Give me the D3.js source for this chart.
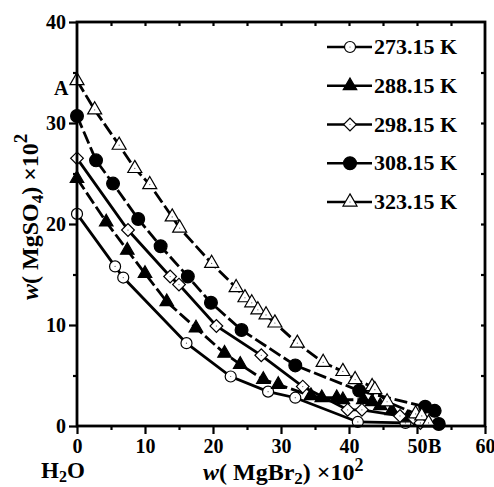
<!DOCTYPE html>
<html><head><meta charset="utf-8">
<script src="https://cdn.jsdelivr.net/npm/d3@7"></script>
<style>
html,body{margin:0;padding:0;background:#fff;}
svg text{font-family:"Liberation Serif","Times New Roman",serif;font-weight:bold;fill:#000;}
</style></head>
<body><svg id="c" width="494" height="487"></svg>
<script>
// ---- data ----
const seriesNames = ["273.15 K","288.15 K","298.15 K","308.15 K","323.15 K"];
const x273 = [0,5.6,6.8,16.1,22.6,28.1,32.1,41.3,48.3];
const y273 = [21.0,15.8,14.7,8.2,4.9,3.4,2.8,0.4,0.3];
const x288 = [0,4.3,7.4,10.0,13.2,17.5,21.7,24.0,27.4,29.6,34.4,36.0,38.2,39.1,42.1,43.4,44.6,46.3,48.6,50.4];
const y288 = [24.5,20.2,17.4,15.1,12.3,9.7,7.2,6.1,4.6,4.1,3.0,2.8,2.8,2.6,2.6,2.4,2.0,1.5,0.8,0.4];
const x298 = [0,7.5,13.7,15.0,20.5,27.1,33.2,39.8,41.9,47.5,49.5,50.5];
const y298 = [26.5,19.4,14.8,14.0,9.9,7.0,3.9,1.6,1.6,1.0,0.8,0.3];
const x308 = [0,2.8,5.3,9.0,12.3,16.3,19.7,24.2,32.1,41.5,51.2,52.6,53.2];
const y308 = [30.7,26.3,24.0,20.5,17.8,14.8,12.2,9.5,6.0,3.5,1.9,1.5,0.2];
const x323 = [0,2.6,6.2,8.5,10.7,14.0,15.1,19.8,23.4,24.7,25.7,26.6,27.8,29.1,32.4,36.2,39.1,40.9,43.4,43.8,45.6,49.8,50.7,51.7];
const y323 = [34.2,31.3,27.8,25.5,23.9,20.7,19.6,16.1,13.7,12.7,12.2,11.5,11.0,10.2,8.2,6.3,5.4,4.6,3.9,3.6,2.4,1.2,1.0,0.3];
const xTicks = [0,10,20,30,40,50,60];
const yTicks = [0,10,20,30,40];

// ---- styles per series ----
const styles = [
  {shape:"circle",  fill:"#fff", dash:null,  xs:x273, ys:y273},
  {shape:"triangle",fill:"#000", dash:"13,4",xs:x288, ys:y288},
  {shape:"diamond", fill:"#fff", dash:null,  xs:x298, ys:y298},
  {shape:"circle2", fill:"#000", dash:"13,4",xs:x308, ys:y308},
  {shape:"triangle2",fill:"#fff",dash:"13,4",xs:x323, ys:y323}
];

const svg = d3.select("#c");
const L=77, R=485, T=22, B=426;
const x = d3.scaleLinear().domain([0,60]).range([L,R]);
const y = d3.scaleLinear().domain([0,40]).range([B,T]);

function symPath(shape){
  if(shape==="circle") return d3.symbol(d3.symbolCircle, Math.PI*5.5*5.5)();
  if(shape==="circle2") return d3.symbol(d3.symbolCircle, Math.PI*6.4*6.4)();
  if(shape==="triangle") return d3.symbol(d3.symbolTriangle, 13.5*13.5*Math.sqrt(3)/4)();
  if(shape==="triangle2") return d3.symbol(d3.symbolTriangle, 14*14*Math.sqrt(3)/4)();
  if(shape==="diamond") return d3.symbol(d3.symbolSquare, 9*9)();
}
function drawMarker(g, shape, fill, cx, cy){
  g.append("path").attr("d", symPath(shape))
    .attr("fill", fill).attr("stroke","#000").attr("stroke-width",1.2)
    .attr("transform", `translate(${cx},${cy})` + (shape==="diamond"?" rotate(45)":""));
  if(fill==="#fff"){
    g.append("circle").attr("cx",cx).attr("cy",cy).attr("r",0.6).attr("fill","#555");
  }
}

// ---- lines ----
const line = d3.line().x(d=>x(d[0])).y(d=>y(d[1]));
const plot = svg.append("g");
styles.forEach(s=>{
  const pts = s.xs.map((v,i)=>[v,s.ys[i]]);
  plot.append("path").datum(pts).attr("d",line)
    .attr("fill","none").attr("stroke","#000").attr("stroke-width",2.8)
    .attr("stroke-dasharray", s.dash);
});
// ---- markers ----
styles.forEach(s=>{
  s.xs.forEach((v,i)=>drawMarker(plot, s.shape, s.fill, x(v), y(s.ys[i])));
});

// ---- axes ----
const fs = 20;
const axisG = svg.append("g");
function styleAxis(g){
  g.selectAll(".domain").remove();
  g.selectAll("line").attr("stroke","#000").attr("stroke-width",2.2);
  g.selectAll("text").attr("font-size",fs).attr("font-family",null);
}
// bottom
const bx = axisG.append("g").attr("transform",`translate(0,${B})`)
  .call(d3.axisBottom(x).tickValues(xTicks).tickSize(8).tickPadding(5).tickFormat(d3.format("d")));
styleAxis(bx);
bx.selectAll("text").attr("dy","0.71em");
axisG.append("g").attr("transform",`translate(0,${B})`)
  .call(d3.axisBottom(x).tickValues(d3.range(5,60,10)).tickSize(4).tickFormat(""))
  .call(styleAxis);
// left
const lx = axisG.append("g").attr("transform",`translate(${L},0)`)
  .call(d3.axisLeft(y).tickValues(yTicks).tickSize(8).tickPadding(3).tickFormat(d3.format("d")));
styleAxis(lx);
axisG.append("g").attr("transform",`translate(${L},0)`)
  .call(d3.axisLeft(y).tickValues(d3.range(5,40,10)).tickSize(4).tickFormat(""))
  .call(styleAxis);
// top (inward)
axisG.append("g").attr("transform",`translate(0,${T})`)
  .call(d3.axisBottom(x).tickValues(d3.range(5,60,5)).tickSize(4).tickFormat(""))
  .call(styleAxis);
// right (inward)
axisG.append("g").attr("transform",`translate(${R},0)`)
  .call(d3.axisLeft(y).tickValues(d3.range(5,40,5)).tickSize(4).tickFormat(""))
  .call(styleAxis);
// frame
axisG.append("rect").attr("x",L).attr("y",T).attr("width",R-L).attr("height",B-T)
  .attr("fill","none").attr("stroke","#000").attr("stroke-width",2.8);

// ---- labels ----
svg.append("text").attr("x",54).attr("y",95).attr("font-size",fs).text("A");
svg.append("text").attr("x",428).attr("y",453).attr("font-size",fs).text("B");
const h2o = svg.append("text").attr("x",41).attr("y",478).attr("font-size",23);
h2o.append("tspan").text("H");
h2o.append("tspan").attr("font-size",16).attr("dy",4).text("2");
h2o.append("tspan").attr("dy",-4).text("O");

// x title
const xt = svg.append("text").attr("x",203).attr("y",480).attr("font-size",24);
xt.append("tspan").attr("font-style","italic").text("w");
xt.append("tspan").text("( MgBr");
xt.append("tspan").attr("font-size",17).attr("dy",4).text("2");
xt.append("tspan").attr("dy",-4).text(") ×10");
xt.append("tspan").attr("font-size",18).attr("dy",-9).text("2");

// y title
const yt = svg.append("text").attr("transform",`translate(38,300) rotate(-90)`)
  .attr("font-size",24);
yt.append("tspan").attr("font-style","italic").text("w");
yt.append("tspan").text("( MgSO");
yt.append("tspan").attr("font-size",17).attr("dy",5).text("4");
yt.append("tspan").attr("dy",-5).text(") ×10");
yt.append("tspan").attr("font-size",19).attr("dy",-11).text("2");

// ---- legend ----
const lg = svg.append("g");
const legY = d3.scaleLinear().domain([0,4]).range([47,202]);
seriesNames.forEach((n,i)=>{
  const yy = legY(i);
  lg.append("line").attr("x1",327).attr("x2",372).attr("y1",yy).attr("y2",yy)
    .attr("stroke","#000").attr("stroke-width",2.6);
  drawMarker(lg, styles[i].shape, styles[i].fill, 350, yy);
  lg.append("text").attr("x",374).attr("y",yy+7).attr("font-size",22).text(n);
});
</script></body></html>
